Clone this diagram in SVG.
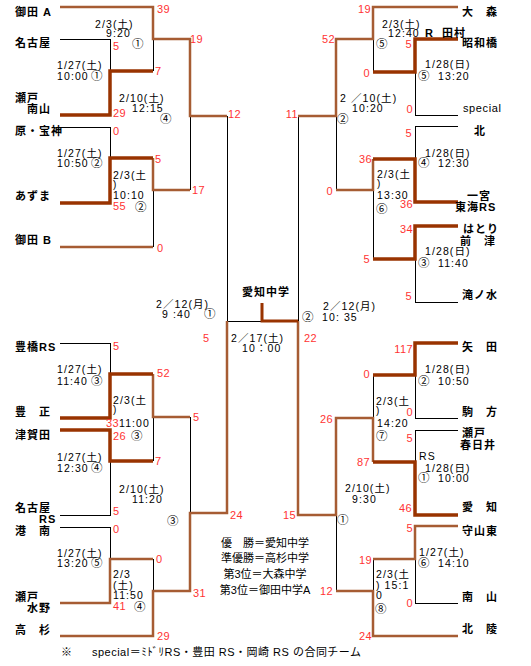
<svg xmlns="http://www.w3.org/2000/svg" width="531" height="666" viewBox="0 0 531 666">
<style>
.t{stroke:#000;stroke-width:1;fill:none;shape-rendering:crispEdges}
.m{stroke:#a65c33;stroke-width:2.5;fill:none}
.k{stroke:#993300;stroke-width:3.5;fill:none}
.f{stroke:#993300;stroke-width:3;fill:none}
text{font-family:"Liberation Sans","Noto Sans CJK JP",sans-serif;font-size:11px;fill:#000}
.n{fill:#ff3333;letter-spacing:0.4px}
.r{text-anchor:end}
.d{font-size:10.5px;letter-spacing:1.1px}
.o{font-size:11.5px}
.p{font-size:10px}
.tm{font-weight:bold;letter-spacing:1px}
.c{text-anchor:middle}
</style>
<rect width="531" height="666" fill="#fff"/>
<g id="connectors">
<path class="t" d="M60,39H110V71M153,39V71M60,127H110V158M153,190V247M190,116V190M227,116V321M60,343H110V374M153,417V461M60,515H110V461M60,527H110V559M153,559V591M190,417V513M227,321H262M458,115H415V72M373,39V72M458,126H415V159M415,259V302H458M373,190V259M336,116V190M298,116V321M373,375V418M458,418H415V375M458,430H415V462M458,603H415V559M373,559V591M336,515V591"/>
<path class="m" d="M60,7H153V39H190V116H227"/>
<path class="m" d="M60,247H153"/>
<path class="m" d="M153,158V190H190"/>
<path class="m" d="M458,7H373V39H336V116H298"/>
<path class="m" d="M373,159V190H336"/>
<path class="m" d="M153,374V417H190"/>
<path class="m" d="M60,603H110V559H153"/>
<path class="m" d="M60,636H153V591H190V513H227V321"/>
<path class="m" d="M373,462V418H336V515H298V321"/>
<path class="m" d="M458,526H415V559H373"/>
<path class="m" d="M458,636H373V591H336"/>
<path class="k" d="M60,115H110V71H153"/>
<path class="k" d="M60,203H110V158H153"/>
<path class="k" d="M458,39H415V72H373"/>
<path class="k" d="M458,202H415V159H373"/>
<path class="k" d="M458,226H415V259H373"/>
<path class="k" d="M60,418H110V374H153"/>
<path class="k" d="M60,430H110V461H153"/>
<path class="k" d="M458,343H415V375H373"/>
<path class="k" d="M458,515H415V462H373"/>
<path class="f" d="M262,303V321H298"/>
</g>
<g id="teams">
<g id="t-mitaA"><text class="tm" x="15" y="16">御田 A</text></g>
<g id="t-nagoya"><text class="tm" x="15" y="47">名古屋</text></g>
<g id="t-seto-minamiyama"><text class="tm" x="15" y="102">瀬戸</text><text class="tm" x="27" y="113">南山</text></g>
<g id="t-hara"><text class="tm" x="15" y="135">原・宝神</text></g>
<g id="t-azuma"><text class="tm" x="15" y="200">あずま</text></g>
<g id="t-mitaB"><text class="tm" x="15" y="244">御田 B</text></g>
<g id="t-toyohashi"><text class="tm" x="15" y="351">豊橋RS</text></g>
<g id="t-hosho"><text class="tm" x="15" y="416">豊　正</text></g>
<g id="t-tsugata"><text class="tm" x="15" y="439">津賀田</text></g>
<g id="t-nagoyaRS"><text class="tm" x="15" y="512">名古屋</text><text class="tm" x="39" y="523">RS</text></g>
<g id="t-konan"><text class="tm" x="15" y="535">港　南</text></g>
<g id="t-seto-mizuno"><text class="tm" x="15" y="601">瀬戸</text><text class="tm" x="27" y="612">水野</text></g>
<g id="t-takasugi"><text class="tm" x="15" y="634">高　杉</text></g>
<g id="t-omori"><text class="tm" x="462" y="16">大　森</text></g>
<g id="t-showabashi"><text class="tm" x="462" y="47">昭和橋</text></g>
<g id="t-special"><text x="463" y="112" letter-spacing="0.6">special</text></g>
<g id="t-kita"><text class="tm" x="474" y="135">北</text></g>
<g id="t-ichinomiya"><text class="tm" x="467" y="200">一宮</text><text class="tm" x="455" y="211">東海RS</text></g>
<g id="t-hatori"><text class="tm" x="463" y="233">はとり</text><text class="tm" x="460" y="245">前　津</text></g>
<g id="t-takinomizu"><text class="tm" x="462" y="299">滝ノ水</text></g>
<g id="t-yada"><text class="tm" x="462" y="351">矢　田</text></g>
<g id="t-komakata"><text class="tm" x="462" y="416">駒　方</text></g>
<g id="t-seto-kasugai"><text class="tm" x="462" y="437">瀬戸</text><text class="tm" x="460" y="449">春日井</text></g>
<g id="t-aichi"><text class="tm" x="462" y="511">愛　知</text></g>
<g id="t-moriyamahigashi"><text class="tm" x="462" y="535">守山東</text></g>
<g id="t-nanzan"><text class="tm" x="462" y="601">南　山</text></g>
<g id="t-hokuryo"><text class="tm" x="462" y="633">北　陵</text></g>
<g id="t-champion"><text class="tm" x="242" y="296">愛知中学</text></g>
</g>
<g id="scores">
<text class="n" x="157" y="13">39</text>
<text class="n" x="113" y="50">5</text>
<text class="n" x="155" y="75">7</text>
<text class="n" x="113" y="117">29</text>
<text class="n" x="113" y="135">0</text>
<text class="n" x="155" y="163">5</text>
<text class="n" x="113" y="210">55</text>
<text class="n" x="157" y="252">0</text>
<text class="n" x="190" y="43">19</text>
<text class="n" x="192" y="194">17</text>
<text class="n" x="228" y="118">12</text>
<text class="n r" x="298" y="118">11</text>
<text class="n r" x="335" y="43">52</text>
<text class="n r" x="371" y="13">19</text>
<text class="n r" x="370" y="77">0</text>
<text class="n r" x="412" y="48">5</text>
<text class="n r" x="413" y="113">0</text>
<text class="n r" x="412" y="137">5</text>
<text class="n r" x="372" y="163">36</text>
<text class="n r" x="333" y="195">0</text>
<text class="n r" x="413" y="208">36</text>
<text class="n r" x="413" y="233">34</text>
<text class="n r" x="370" y="263">5</text>
<text class="n r" x="412" y="300">5</text>
<text class="n" x="203" y="342">5</text>
<text class="n" x="304" y="342">22</text>
<text class="n" x="113" y="350">5</text>
<text class="n" x="157" y="377">52</text>
<text class="n" x="106" y="427">33</text>
<text class="n" x="113" y="440">26</text>
<text class="n" x="155" y="465">7</text>
<text class="n" x="193" y="421">5</text>
<text class="n" x="113" y="515">5</text>
<text class="n" x="113" y="533">0</text>
<text class="n" x="156" y="563">0</text>
<text class="n" x="113" y="610">41</text>
<text class="n" x="157" y="640">29</text>
<text class="n" x="193" y="597">31</text>
<text class="n" x="230" y="519">24</text>
<text class="n r" x="413" y="353">117</text>
<text class="n r" x="370" y="378">0</text>
<text class="n r" x="413" y="416">0</text>
<text class="n r" x="413" y="442">5</text>
<text class="n r" x="370" y="466">87</text>
<text class="n r" x="333" y="423">26</text>
<text class="n r" x="296" y="519">15</text>
<text class="n r" x="412" y="512">46</text>
<text class="n r" x="413" y="532">5</text>
<text class="n r" x="372" y="564">19</text>
<text class="n r" x="413" y="607">0</text>
<text class="n r" x="372" y="640">24</text>
<text class="n r" x="333" y="595">12</text>
</g>
<g id="dates">
<text class="d" x="95" y="28">2/3(土)</text>
<text class="d" x="106" y="37">9:20</text>
<text class="o" x="132" y="48">①</text>
<text class="d" x="57" y="69">1/27(土)</text>
<text class="d" x="57" y="80">10:00</text><text class="o" x="91" y="80">①</text>
<text class="d" x="119" y="102">2/10(土)</text>
<text class="d" x="132" y="112">12:15</text>
<text class="o" x="160" y="123">④</text>
<text class="d" x="57" y="157">1/27(土)</text>
<text class="d" x="57" y="167">10:50</text><text class="o" x="91" y="167">②</text>
<text class="d" x="113" y="179">2/3(土</text>
<text class="p" x="113" y="188">)</text>
<text class="d" x="113" y="199">10:10</text>
<text class="o" x="135" y="211">②</text>
<text class="d" x="156" y="308">2／12(月)</text>
<text class="d" x="162" y="318">9 :40</text><text class="o" x="204" y="318">①</text>
<text class="d" x="323" y="310">2／12(月)</text>
<text class="o" x="302" y="321">②</text><text class="d" x="322" y="321">10: 35</text>
<text class="d" x="231" y="342">2／17(土)</text>
<text class="d" x="242" y="352">10：00</text>
<text class="d" x="382" y="28">2/3(土)</text>
<text class="d" x="388" y="37">12:40</text>
<text class="tm" x="425" y="37">R</text><text class="tm" x="442" y="37">田村</text>
<text class="o" x="376" y="48">⑤</text>
<text class="d" x="425" y="68">1/28(日)</text>
<text class="o" x="418" y="80">⑤</text><text class="d" x="438" y="80">13:20</text>
<text class="d" x="340" y="102">2 ／10(土)</text>
<text class="d" x="352" y="112">10:20</text>
<text class="o" x="337" y="123">②</text>
<text class="d" x="425" y="157">1/28(日)</text>
<text class="o" x="418" y="167">④</text><text class="d" x="438" y="167">12:30</text>
<text class="d" x="377" y="178">2/3(土</text>
<text class="p" x="377" y="187">)</text>
<text class="d" x="377" y="199">13:30</text>
<text class="o" x="376" y="213">⑥</text>
<text class="d" x="425" y="255">1/28(日)</text>
<text class="o" x="418" y="267">③</text><text class="d" x="438" y="267">11:40</text>
<text class="d" x="425" y="373">1/28(日)</text>
<text class="o" x="418" y="385">②</text><text class="d" x="438" y="385">10:50</text>
<text class="d" x="376" y="405">2/3(土</text>
<text class="p" x="376" y="414">)</text>
<text class="d" x="377" y="427">14:20</text>
<text class="o" x="376" y="440">⑦</text>
<text class="d" x="419" y="460">RS</text>
<text class="d" x="425" y="472">1/28(日)</text>
<text class="o" x="418" y="482">①</text><text class="d" x="438" y="482">10:00</text>
<text class="d" x="345" y="492">2/10(土)</text>
<text class="d" x="352" y="503">9:30</text>
<text class="o" x="337" y="524">①</text>
<text class="d" x="419" y="556">1/27(土)</text>
<text class="o" x="418" y="567">⑥</text><text class="d" x="438" y="567">14:10</text>
<text class="d" x="376" y="578">2/3(土</text>
<text class="d" x="376" y="589">) 15:1</text>
<text class="d" x="376" y="599">0</text>
<text class="o" x="375" y="613">⑧</text>
<text class="d" x="57" y="373">1/27(土)</text>
<text class="d" x="57" y="385">11:40</text><text class="o" x="91" y="385">③</text>
<text class="d" x="113" y="404">2/3(土</text>
<text class="p" x="113" y="413">)</text>
<text class="d" x="119" y="427">11:00</text>
<text class="o" x="131" y="440">③</text>
<text class="d" x="57" y="461">1/27(土)</text>
<text class="d" x="57" y="472">12:30</text><text class="o" x="91" y="472">④</text>
<text class="d" x="119" y="493">2/10(土)</text>
<text class="d" x="132" y="503">11:20</text>
<text class="o" x="167" y="525">③</text>
<text class="d" x="57" y="557">1/27(土)</text>
<text class="d" x="57" y="567">13:20</text><text class="o" x="91" y="567">⑤</text>
<text class="d" x="113" y="578">2/3</text>
<text class="d" x="113" y="589">(土)</text>
<text class="d" x="113" y="599">11:50</text>
<text class="o" x="134" y="611">④</text>
</g>
<g id="results">
<text class="c" x="265" y="547">優　勝＝愛知中学</text>
<text class="c" x="265" y="562">準優勝＝高杉中学</text>
<text class="c" x="265" y="578">第3位＝大森中学</text>
<text class="c" x="265" y="594">第3位＝御田中学A</text>
</g>
<g id="note">
<text x="61" y="656">※</text>
<text x="92" y="656" textLength="269" lengthAdjust="spacing">special＝ﾐﾄﾞﾘRS・豊田 RS・岡崎 RS の合同チーム</text>
</g>
</svg>
